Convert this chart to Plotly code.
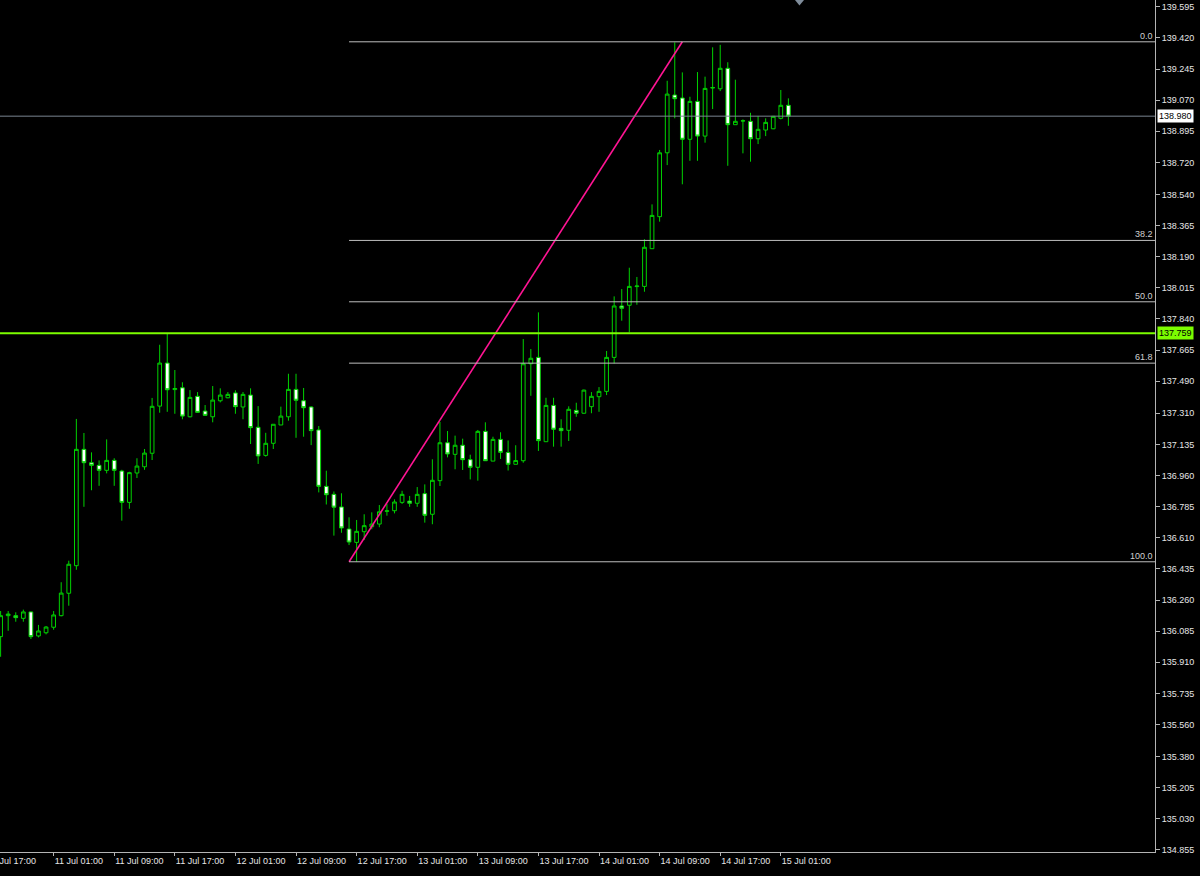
import plotly.graph_objects as go

# ---------------- data (hourly bars, bar 0 = 10 Jul 17:00) ----------------
bars = list(range(1, 106))

opens = [
    136.054, 136.172, 136.172, 136.157, 136.193, 136.058, 136.076, 136.107, 136.172, 136.298,
    136.453, 137.107, 137.032, 137.017, 136.989, 137.045, 136.985, 136.809, 136.974, 137.009,
    137.085, 137.350, 137.592, 137.443, 137.453, 137.290, 137.405, 137.322, 137.290, 137.380,
    137.397, 137.424, 137.345, 137.412, 137.231, 137.073, 137.141, 137.244, 137.290, 137.444,
    137.380, 137.345, 137.216, 136.899, 136.854, 136.783, 136.659, 136.584, 136.644, 136.672,
    136.687, 136.759, 136.762, 136.809, 136.816, 136.804, 136.858, 136.742, 136.931, 137.144,
    137.079, 137.130, 137.049, 137.006, 137.208, 137.041, 137.163, 137.089, 137.023, 137.043,
    137.588, 137.624, 137.150, 137.354, 137.225, 137.214, 137.326, 137.310, 137.347, 137.403,
    137.433, 137.624, 137.913, 137.917, 138.022, 138.023, 138.235, 138.415, 138.774, 139.099,
    139.082, 138.850, 139.063, 138.868, 139.138, 139.134, 139.249, 138.932, 138.953, 138.951,
    138.853, 138.902, 138.909, 138.968, 139.041,
]
highs = [
    136.198, 136.198, 136.191, 136.206, 136.195, 136.120, 136.114, 136.198, 136.360, 136.481,
    137.278, 137.199, 137.090, 137.045, 137.163, 137.057, 136.992, 136.981, 137.057, 137.109,
    137.396, 137.695, 137.759, 137.553, 137.484, 137.440, 137.429, 137.356, 137.463, 137.450,
    137.429, 137.439, 137.429, 137.450, 137.350, 137.200, 137.248, 137.347, 137.532, 137.532,
    137.452, 137.349, 137.238, 136.987, 136.870, 136.860, 136.725, 136.710, 136.742, 136.753,
    136.794, 136.800, 136.826, 136.874, 136.845, 136.895, 136.910, 137.051, 137.261, 137.210,
    137.184, 137.167, 137.077, 137.216, 137.259, 137.178, 137.203, 137.157, 137.130, 137.727,
    137.671, 137.877, 137.397, 137.397, 137.276, 137.349, 137.369, 137.443, 137.429, 137.457,
    137.660, 137.967, 138.008, 138.128, 138.076, 138.288, 138.484, 138.790, 139.179, 139.395,
    139.226, 139.089, 139.228, 139.202, 139.367, 139.381, 139.283, 139.185, 138.962, 138.999,
    138.981, 138.968, 138.981, 139.127, 139.080,
]
lows = [
    135.941, 136.087, 136.138, 136.138, 136.041, 136.050, 136.067, 136.093, 136.168, 136.228,
    136.430, 136.784, 136.877, 136.902, 136.972, 136.902, 136.706, 136.773, 136.946, 136.992,
    137.047, 137.313, 137.318, 137.307, 137.276, 137.287, 137.315, 137.298, 137.259, 137.371,
    137.394, 137.307, 137.276, 137.137, 137.025, 137.066, 137.109, 137.244, 137.268, 137.172,
    137.178, 137.131, 136.865, 136.797, 136.622, 136.638, 136.569, 136.475, 136.597, 136.658,
    136.669, 136.734, 136.747, 136.800, 136.784, 136.784, 136.695, 136.686, 136.901, 137.062,
    136.995, 136.991, 136.938, 136.931, 137.043, 137.041, 137.053, 136.988, 137.023, 137.032,
    137.408, 137.098, 137.150, 137.122, 137.122, 137.154, 137.290, 137.307, 137.310, 137.318,
    137.412, 137.590, 137.830, 137.765, 137.920, 137.993, 138.235, 138.387, 138.705, 138.968,
    138.597, 138.729, 138.729, 138.831, 139.020, 139.121, 138.701, 138.932, 138.771, 138.724,
    138.823, 138.868, 138.907, 138.962, 138.926,
]
closes = [
    136.172, 136.181, 136.161, 136.193, 136.054, 136.086, 136.108, 136.176, 136.299, 136.461,
    137.107, 137.032, 137.017, 136.989, 137.045, 136.989, 136.809, 136.976, 137.013, 137.086,
    137.349, 137.592, 137.442, 137.449, 137.294, 137.399, 137.315, 137.298, 137.384, 137.412,
    137.416, 137.347, 137.416, 137.229, 137.070, 137.141, 137.248, 137.294, 137.444, 137.383,
    137.341, 137.212, 136.899, 136.852, 136.782, 136.665, 136.586, 136.646, 136.678, 136.687,
    136.756, 136.761, 136.811, 136.854, 136.804, 136.854, 136.736, 136.933, 137.144, 137.081,
    137.130, 137.049, 137.006, 137.208, 137.043, 137.163, 137.090, 137.023, 137.044, 137.588,
    137.619, 137.156, 137.354, 137.220, 137.212, 137.332, 137.310, 137.440, 137.405, 137.433,
    137.624, 137.913, 137.900, 138.023, 138.025, 138.243, 138.422, 138.774, 139.104, 139.078,
    138.850, 139.063, 138.868, 139.136, 139.141, 139.249, 138.932, 138.951, 138.954, 138.853,
    138.906, 138.945, 138.979, 139.041, 138.980,
]

x_tick_bars = [8, 16, 24, 32, 40, 48, 56, 64, 72, 80, 88, 96, 104]
x_tick_labels = ["11 Jul 01:00", "11 Jul 09:00", "11 Jul 17:00", "12 Jul 01:00",
                 "12 Jul 09:00", "12 Jul 17:00", "13 Jul 01:00", "13 Jul 09:00",
                 "13 Jul 17:00", "14 Jul 01:00", "14 Jul 09:00", "14 Jul 17:00",
                 "15 Jul 01:00"]
first_tick_bar = 0
first_tick_label = "10 Jul 17:00"

y_tick_labels = ["139.595", "139.420", "139.245", "139.070", "138.895", "138.720",
                 "138.540", "138.365", "138.190", "138.015", "137.840", "137.665",
                 "137.490", "137.310", "137.135", "136.960", "136.785", "136.610",
                 "136.435", "136.260", "136.085", "135.910", "135.735", "135.560",
                 "135.380", "135.205", "135.030", "134.855"]
y_tick_vals = [float(t) for t in y_tick_labels]

fib_start_bar, fib_low = 47, 136.475
fib_end_bar, fib_high = 91, 139.398
fib_levels = [0.0, 38.2, 50.0, 61.8, 100.0]

hline_price = 137.759
current_price = 138.980

x_range = [0.92, 153.4]
y_range = [134.8435, 139.633]

# ---------------- styles ----------------
GREEN = "#00D200"
AXIS = "#B4B4B4"
TXT = "#E6E6E6"
FONT = "Liberation Sans"

fig = go.Figure()

fig.add_trace(go.Candlestick(
    x=bars, open=opens, high=highs, low=lows, close=closes,
    increasing=dict(line=dict(color=GREEN, width=1), fillcolor="#000000"),
    decreasing=dict(line=dict(color=GREEN, width=1), fillcolor="#FFFFFF"),
    whiskerwidth=0, hoverinfo="skip", showlegend=False,
))

# fibonacci trend line
fig.add_trace(go.Scatter(
    x=[fib_start_bar, fib_end_bar], y=[fib_low, fib_high], mode="lines",
    line=dict(color="#FF1493", width=1.6), hoverinfo="skip", showlegend=False,
))

shapes = []
annotations = []
for lv in fib_levels:
    price = fib_high - lv / 100.0 * (fib_high - fib_low)
    shapes.append(dict(type="line", xref="x", yref="y", x0=fib_start_bar, x1=x_range[1],
                       y0=price, y1=price, line=dict(color="#BEBEBE", width=1)))
    annotations.append(dict(xref="paper", yref="y", x=1, y=price, xshift=-1,
                            xanchor="right", yanchor="bottom", showarrow=False,
                            text=f"{lv:.1f}", font=dict(family=FONT, size=9, color="#D0D0D0"),
                            borderpad=0))

# current price line
shapes.append(dict(type="line", xref="paper", yref="y", x0=0, x1=1,
                   y0=current_price, y1=current_price,
                   line=dict(color="#7A8590", width=1)))
# horizontal level
shapes.append(dict(type="line", xref="paper", yref="y", x0=0, x1=1,
                   y0=hline_price, y1=hline_price,
                   line=dict(color="#7CFC00", width=2)))
# shift marker triangle at top
shapes.append(dict(type="path", xref="paper", yref="paper",
                   path="M 0.6883 1 L 0.6961 1 L 0.6922 0.9935 Z",
                   fillcolor="#7F8C9A", line=dict(width=0)))

# price boxes on the axis
annotations.append(dict(xref="paper", yref="y", x=1, y=current_price, xshift=2,
                        xanchor="left", yanchor="middle", showarrow=False,
                        text=f"{current_price:.3f}", bgcolor="#FFFFFF",
                        font=dict(family=FONT, size=9, color="#000000"), borderpad=1))
annotations.append(dict(xref="paper", yref="y", x=1, y=hline_price, xshift=2,
                        xanchor="left", yanchor="middle", showarrow=False,
                        text=f"{hline_price:.3f}", bgcolor="#7CFC00",
                        font=dict(family=FONT, size=9, color="#000000"), borderpad=1))

# first time label, partly off the left edge as in the terminal
fx = (first_tick_bar - x_range[0]) / (x_range[1] - x_range[0])
annotations.append(dict(xref="paper", yref="paper", x=fx, y=0, yshift=-9, xshift=-8,
                        xanchor="left", yanchor="middle", showarrow=False,
                        text=first_tick_label, font=dict(family=FONT, size=9, color=TXT)))

fig.update_layout(
    width=1200, height=876,
    margin=dict(l=0, r=45, t=0, b=24, autoexpand=False),
    paper_bgcolor="#000000", plot_bgcolor="#000000",
    showlegend=False, boxgap=0.3,
    shapes=shapes, annotations=annotations,
    xaxis=dict(range=x_range, tickvals=x_tick_bars, ticktext=x_tick_labels,
               ticks="outside", ticklen=3, tickcolor=AXIS,
               ticklabelposition="outside right",
               tickfont=dict(family=FONT, size=9, color=TXT),
               showline=True, linecolor=AXIS, linewidth=1,
               showgrid=False, zeroline=False, rangeslider=dict(visible=False),
               fixedrange=True, automargin=False),
    yaxis=dict(range=y_range, side="right", tickvals=y_tick_vals, ticktext=y_tick_labels,
               ticks="outside", ticklen=4, tickcolor=AXIS,
               tickfont=dict(family=FONT, size=9, color=TXT),
               showline=True, linecolor=AXIS, linewidth=1,
               showgrid=False, zeroline=False, fixedrange=True, automargin=False),
)

fig.write_html(
    "out.html",
    config={"displayModeBar": False},
    post_script="document.body.style.margin='0';document.body.style.background='#000';",
)
